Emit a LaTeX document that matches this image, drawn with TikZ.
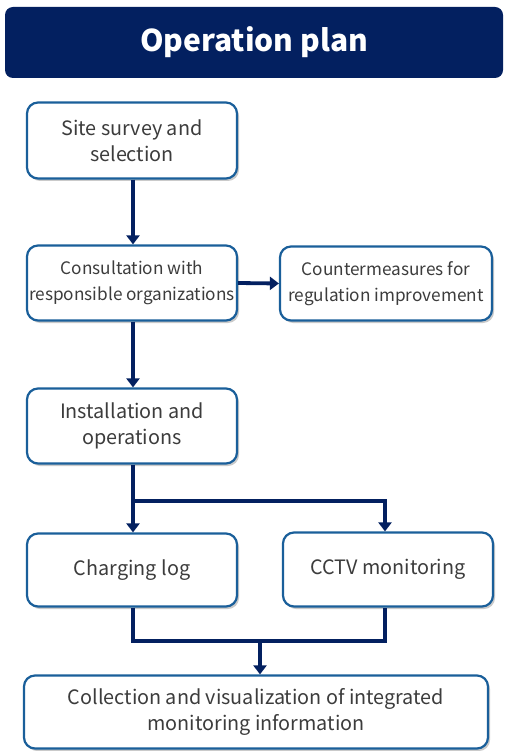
\documentclass[tikz,border=0pt]{standalone}
\usepackage{fontspec}
\setmainfont{Noto Sans CJK KR}
\usetikzlibrary{arrows.meta,shadows,calc}
\definecolor{navy}{RGB}{3,32,96}
\definecolor{boxblue}{RGB}{26,95,154}
\definecolor{txt}{RGB}{60,60,60}
\begin{document}
\begin{tikzpicture}[x=1pt,y=-1pt,
  stepbox/.style={draw=boxblue, line width=2.2pt, fill=white, rounded corners=11pt,
    align=center, text=txt, font=\fontsize{19.8}{26.5}\selectfont, inner sep=0pt,
    drop shadow={shadow xshift=2pt, shadow yshift=-2.5pt, opacity=0.35, fill=black!60}},
  smalltext/.style={font=\fontsize{17.2}{26.5}\selectfont},
  flow/.style={draw=navy, line width=3.8pt},
  arr/.style={flow, -{Triangle[width=13pt,length=9pt]}}]
\useasboundingbox (0,0) rectangle (509,751);
\node[fill=navy, rounded corners=8pt, minimum width=498pt, minimum height=71pt, inner sep=0pt,
  text=white, font=\fontsize{30}{36}\selectfont\bfseries] (title) at (254,42.5) {Operation plan};
\node[stepbox, minimum width=210pt, minimum height=76pt] (site) at (132,140.5) {Site survey and\\selection};
\node[stepbox, smalltext, minimum width=210pt, minimum height=75pt] (cons) at (132,283) {Consultation with\\responsible organizations};
\node[stepbox, smalltext, minimum width=212pt, minimum height=74pt] (counter) at (386,283.5) {Countermeasures for\\regulation improvement};
\node[stepbox, minimum width=210pt, minimum height=75pt] (inst) at (132,426) {Installation and\\operations};
\node[stepbox, minimum width=210pt, minimum height=73pt] (charge) at (132,570) {Charging log};
\node[stepbox, minimum width=210pt, minimum height=74pt] (cctv) at (388,569.5) {CCTV monitoring};
\node[stepbox, minimum width=464pt, minimum height=73pt] (coll) at (256,712) {Collection and visualization of integrated\\monitoring information};
\coordinate (split) at (133,501);
\coordinate (join) at (260,641);
\draw[arr] (site.south -| 133,0) -- (cons.north -| 133,0);
\draw[arr] (cons.east) -- (counter.west);
\draw[arr] (cons.south -| 133,0) -- (inst.north -| 133,0);
\draw[flow] (inst.south -| 133,0) -- (split);
\draw[arr] (split) -- (charge.north -| 133,0);
\draw[arr] (split) -- (385,501) -- (cctv.north -| 385,0);
\draw[flow] (charge.south -| 133,0) -- (133,641) -- (385,641) -- (cctv.south -| 385,0);
\draw[arr] (join) -- (coll.north -| join);
\end{tikzpicture}
\end{document}
